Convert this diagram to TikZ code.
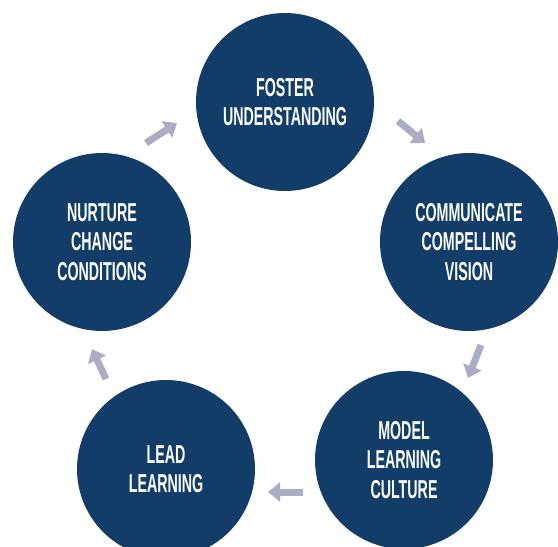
\documentclass[tikz,border=0pt]{standalone}
\usepackage{fontspec}
\setmainfont{Liberation Sans}[FakeStretch=0.55]
\usetikzlibrary{arrows.meta}
\definecolor{navy}{HTML}{123D68}
\definecolor{arrowgray}{HTML}{ABADC6}
\tikzset{
  stage/.style={circle, fill=navy, minimum size=178bp, inner sep=0pt, text=white,
    align=center, font=\bfseries\fontsize{26}{29.5}\selectfont},
  cyclearrow/.style={draw=arrowgray, line width=7bp,
    -{Triangle[length=12bp,width=19bp]}}
}
\begin{document}
\begin{tikzpicture}[x=1bp,y=-1bp]
\useasboundingbox (0,0) rectangle (558,547);
\node[stage] (foster) at (285,102) {FOSTER\\UNDERSTANDING};
\node[stage] (vision) at (469,242) {COMMUNICATE\\COMPELLING\\VISION};
\node[stage] (model) at (404,460) {MODEL\\LEARNING\\CULTURE};
\node[stage] (lead) at (166,469) {LEAD\\LEARNING};
\node[stage] (nurture) at (102,242) {NURTURE\\CHANGE\\CONDITIONS};
\coordinate (a1s) at (398,121); \coordinate (a1e) at (425,143);
\coordinate (a2s) at (481,345); \coordinate (a2e) at (468,378);
\coordinate (a3s) at (303,492); \coordinate (a3e) at (268,492);
\coordinate (a4s) at (106,379); \coordinate (a4e) at (92,349);
\coordinate (a5s) at (146,143); \coordinate (a5e) at (177,123);
\draw[cyclearrow] (a1s) -- (a1e);
\draw[cyclearrow] (a2s) -- (a2e);
\draw[cyclearrow] (a3s) -- (a3e);
\draw[cyclearrow] (a4s) -- (a4e);
\draw[cyclearrow] (a5s) -- (a5e);
\end{tikzpicture}
\end{document}
